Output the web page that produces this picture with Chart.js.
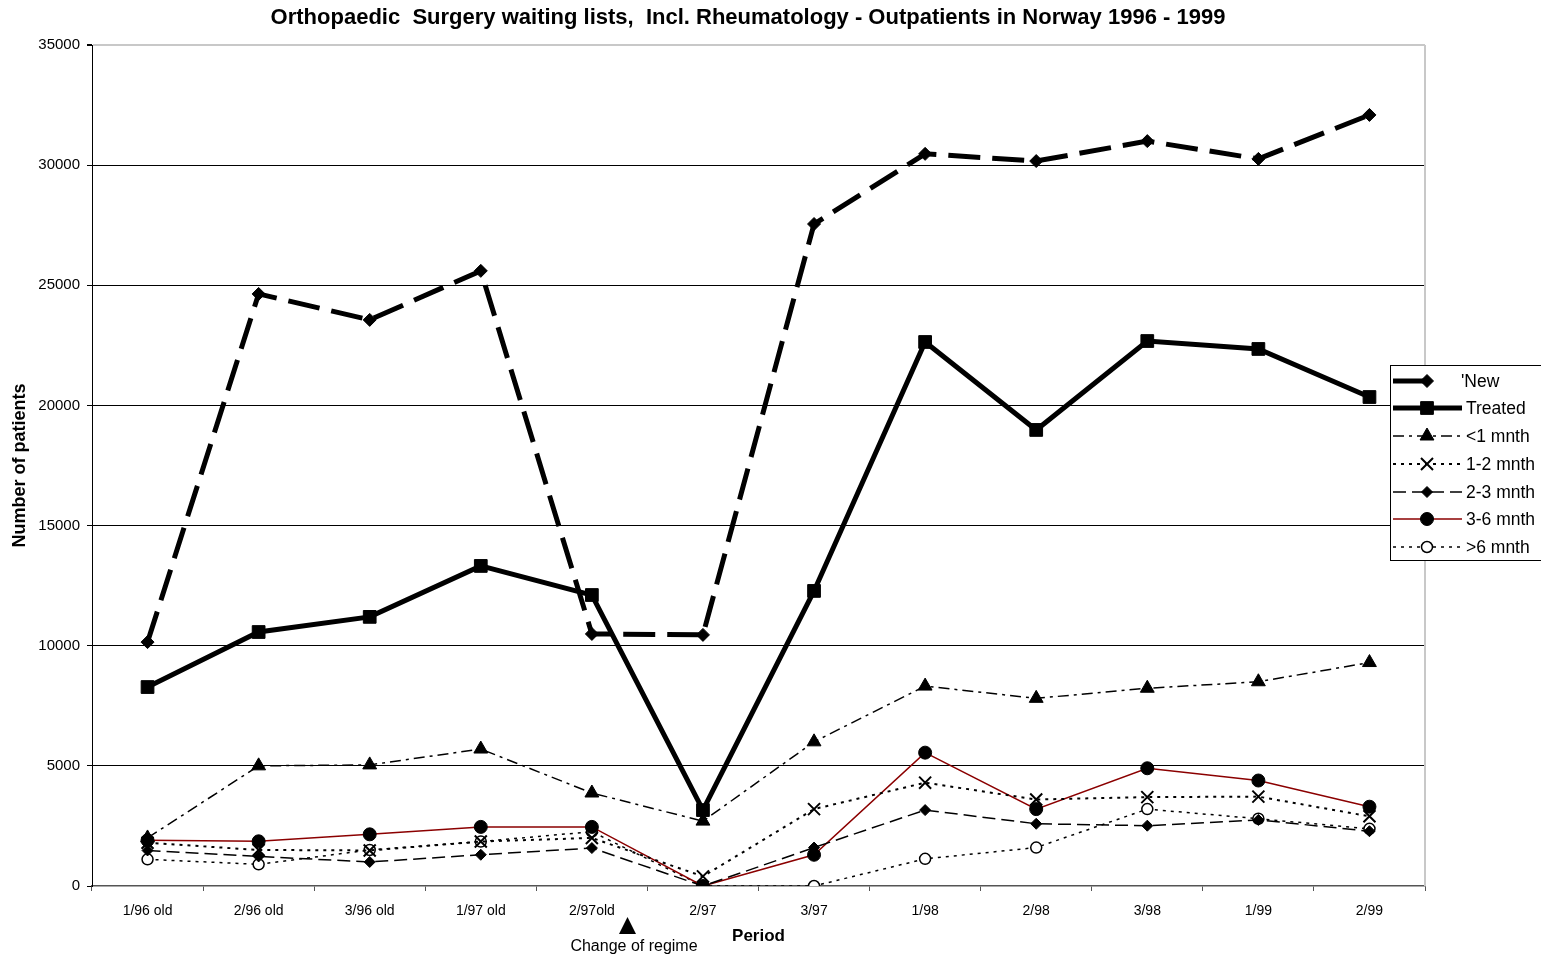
<!DOCTYPE html>
<html>
<head>
<meta charset="utf-8">
<title>Orthopaedic Surgery waiting lists</title>
<script src="https://cdn.jsdelivr.net/npm/chart.js@4"></script>
<style>
  html, body { margin: 0; padding: 0; background: #fff; }
  #wrap { width: 1541px; height: 959px; }
</style>
</head>
<body>
<div id="wrap"><canvas id="chart" width="1541" height="959"></canvas></div>
<script>
// Data
const periods = ['1/96 old', '2/96 old', '3/96 old', '1/97 old', '2/97old', '2/97', '3/97', '1/98', '2/98', '3/98', '1/99', '2/99'];
const newPatients = [10150, 24640, 23560, 25600, 10490, 10450, 27550, 30470, 30170, 31000, 30260, 32090];
const treated = [8280, 10570, 11200, 13320, 12110, 3160, 12280, 22640, 18980, 22680, 22350, 20350];
const under1 = [2000, 5000, 5040, 5700, 3870, 2700, 6000, 8320, 7810, 8230, 8500, 9300];
const m1to2 = [1800, 1500, 1480, 1850, 2000, 400, 3200, 4300, 3600, 3700, 3720, 2900];
const m2to3 = [1480, 1230, 1000, 1300, 1580, 0, 1600, 3160, 2590, 2510, 2750, 2280];
const m3to6 = [1900, 1860, 2150, 2460, 2460, 0, 1300, 5550, 3200, 4900, 4390, 3300];
const over6 = [1110, 900, 1500, 1850, 2260, 0, 0, 1130, 1600, 3200, 2800, 2380];
const yTicks = [0, 5000, 10000, 15000, 20000, 25000, 30000, 35000];

const FONT = "'Liberation Sans', Arial, sans-serif";

const datasets = [
    { label: "'New", data: newPatients, borderColor: '#000', backgroundColor: '#000', borderWidth: 5,
      borderDash: [32, 12], pointStyle: 'rectRot', pointRadius: 6.5, pointBorderWidth: 1 },
    { label: 'Treated', data: treated, borderColor: '#000', backgroundColor: '#000', borderWidth: 5,
      borderDash: [], pointStyle: 'rect', pointRadius: 9, pointBorderWidth: 1 },
    { label: '<1 mnth', data: under1, borderColor: '#000', backgroundColor: '#000', borderWidth: 1.5,
      borderDash: [11, 5, 3, 5], pointStyle: 'triangle', pointRadius: 8, pointBorderWidth: 1 },
    { label: '1-2 mnth', data: m1to2, borderColor: '#000', backgroundColor: '#000', borderWidth: 2,
      borderDash: [3, 5], pointStyle: 'crossRot', pointRadius: 8.5, pointBorderWidth: 2 },
    { label: '2-3 mnth', data: m2to3, borderColor: '#000', backgroundColor: '#000', borderWidth: 1.5,
      borderDash: [13, 6], pointStyle: 'rectRot', pointRadius: 5.5, pointBorderWidth: 1 },
    { label: '3-6 mnth', data: m3to6, borderColor: '#8b0000', backgroundColor: '#000', borderWidth: 1.5,
      borderDash: [], pointStyle: 'circle', pointRadius: 6.5, pointBorderWidth: 1, pointBorderColor: '#000' },
    { label: '>6 mnth', data: over6, borderColor: '#000', backgroundColor: '#fff', borderWidth: 1.5,
      borderDash: [3, 5], pointStyle: 'circle', pointRadius: 5.5, pointBorderWidth: 1.5, pointBorderColor: '#000' }
].map(d => Object.assign({ tension: 0, fill: false, pointBackgroundColor: d.backgroundColor,
    pointBorderColor: d.pointBorderColor || '#000', pointHoverRadius: d.pointRadius }, d));

// title, right frame line, "change of regime" note and the boxed legend
const extras = {
    id: 'extras',
    afterDraw(chart) {
        const { ctx, chartArea } = chart;
        ctx.save();
        // light frame on the right
        ctx.strokeStyle = '#c8c8c8';
        ctx.lineWidth = 2;
        ctx.beginPath();
        ctx.moveTo(chartArea.right, chartArea.top);
        ctx.lineTo(chartArea.right, chartArea.bottom);
        ctx.stroke();

        // title
        ctx.fillStyle = '#000';
        ctx.font = 'bold 22px ' + FONT;
        ctx.textAlign = 'center';
        ctx.textBaseline = 'middle';
        ctx.fillText('Orthopaedic  Surgery waiting lists,  Incl. Rheumatology - Outpatients in Norway 1996 - 1999', 748, 18);

        // change of regime marker
        ctx.beginPath();
        ctx.moveTo(627.5, 917);
        ctx.lineTo(636, 934);
        ctx.lineTo(619, 934);
        ctx.closePath();
        ctx.fill();
        ctx.font = '16px ' + FONT;
        ctx.fillText('Change of regime', 634, 947);

        // legend
        const lx = 1390, ly = 365, lw = 160, lh = 195;
        ctx.fillStyle = '#fff';
        ctx.fillRect(lx, ly, lw, lh);
        ctx.strokeStyle = '#000';
        ctx.lineWidth = 1;
        ctx.strokeRect(lx + 0.5, ly + 0.5, lw, lh);
        const rowY = [381, 408, 436, 464, 492, 519, 547];
        chart.data.datasets.forEach((ds, i) => {
            const y = rowY[i];
            ctx.save();
            ctx.strokeStyle = ds.borderColor;
            ctx.lineWidth = ds.borderWidth;
            ctx.setLineDash(i === 0 ? [] : ds.borderDash);
            ctx.beginPath();
            ctx.moveTo(1393, y);
            ctx.lineTo(i === 0 ? 1427 : 1462, y);
            ctx.stroke();
            ctx.setLineDash([]);
            ctx.fillStyle = ds.pointBackgroundColor;
            ctx.strokeStyle = ds.pointBorderColor;
            ctx.lineWidth = ds.pointBorderWidth;
            Chart.helpers.drawPoint(ctx, { pointStyle: ds.pointStyle, radius: ds.pointRadius, borderWidth: ds.pointBorderWidth, rotation: 0 }, 1427, y);
            ctx.restore();
            ctx.fillStyle = '#000';
            ctx.font = '17.5px ' + FONT;
            ctx.textAlign = 'left';
            ctx.textBaseline = 'middle';
            ctx.fillText(ds.label, i === 0 ? 1461 : 1466, y + 1);
        });
        ctx.restore();
    }
};

Chart.defaults.font.family = FONT;
Chart.defaults.color = '#000';

new Chart(document.getElementById('chart').getContext('2d'), {
    type: 'line',
    data: { labels: periods, datasets: datasets },
    options: {
        responsive: false,
        animation: false,
        layout: { padding: { top: 45, right: 116, bottom: 0, left: 0 } },
        plugins: {
            legend: { display: false },
            title: { display: false },
            tooltip: { enabled: false }
        },
        scales: {
            x: {
                type: 'category',
                offset: true,
                afterFit(scale) { scale.height = 73; },
                grid: { offset: true, drawOnChartArea: false, drawTicks: true, tickLength: 5, color: '#555', lineWidth: 1 },
                border: { display: true, color: '#555', width: 1.5 },
                ticks: { font: { size: 14 }, padding: 12, maxRotation: 0, autoSkip: false },
                title: { display: true, text: 'Period', font: { size: 17, weight: 'bold' }, padding: { top: 0, bottom: 12 } }
            },
            y: {
                min: 0,
                max: 35000,
                afterFit(scale) { scale.width = 92; },
                afterBuildTicks(scale) { scale.ticks = yTicks.map(v => ({ value: v })); },
                grid: {
                    color: ctx => ctx.tick && ctx.tick.value === 35000 ? '#c8c8c8' : (ctx.tick && ctx.tick.value === 0 ? 'rgba(0,0,0,0)' : '#000'),
                    lineWidth: ctx => ctx.tick && ctx.tick.value === 35000 ? 2 : 1,
                    tickColor: '#000',
                    tickLength: 5
                },
                border: { display: true, color: '#000', width: 1 },
                ticks: { font: { size: 15 }, padding: 7, callback: v => String(v) },
                title: { display: true, text: 'Number of patients', font: { size: 18, weight: 'bold' }, padding: { top: 9, bottom: 0 } }
            }
        }
    },
    plugins: [extras]
});
</script>
</body>
</html>
